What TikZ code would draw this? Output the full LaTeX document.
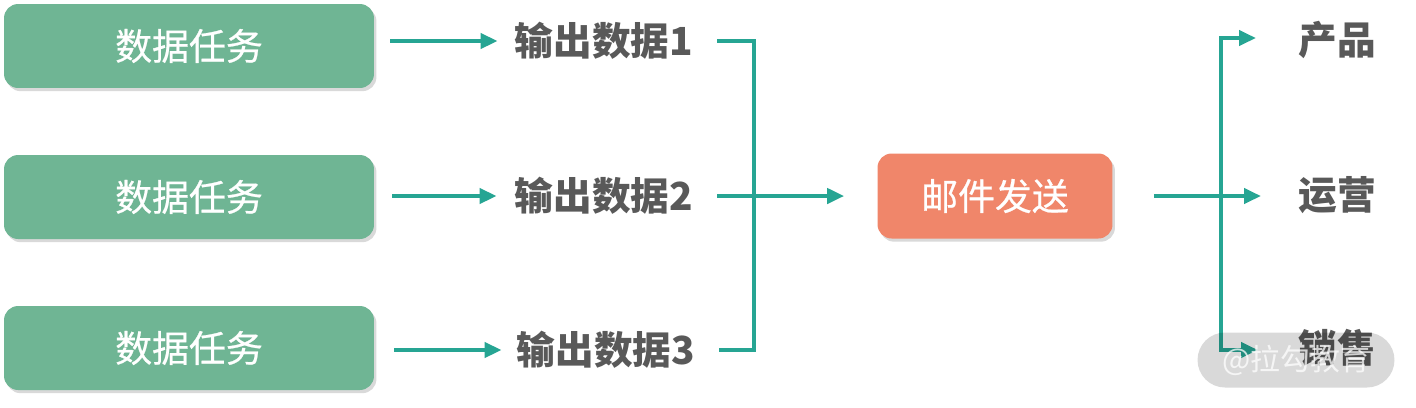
\documentclass[tikz,border=0pt]{standalone}
\usepackage{fontspec}
\usepackage{tikz}
\usetikzlibrary{arrows.meta,shadows}
\setmainfont{Noto Sans CJK SC}
\newfontfamily\boxfont[FakeBold=0.6]{Noto Sans CJK SC}
\definecolor{task}{HTML}{6FB594}
\definecolor{mail}{HTML}{F0866A}
\definecolor{flow}{HTML}{26A593}
\definecolor{txt}{HTML}{595959}

\begin{document}
\begin{tikzpicture}[
    x=0.02cm,y=-0.02cm,
    box/.style={rounded corners=8pt,fill=task,text=white,
              minimum width=7.4cm,minimum height=1.68cm,
              font=\boxfont\fontsize{21}{21}\selectfont,
              drop shadow={shadow xshift=1.4pt,shadow yshift=-1.8pt,opacity=0.3}},
    send/.style={box,fill=mail,minimum width=4.7cm,minimum height=1.7cm},
    lbl/.style={text=txt,inner sep=0pt,font=\fontsize{22}{22}\selectfont\bfseries},
    ln/.style={flow,line width=2.3pt},
    fl/.style={ln,-{Triangle[length=0.34cm,width=0.3cm]}}
  ]
    \useasboundingbox (0,0) rectangle (1416,407);
    % tasks
    \node[box] (t1) at (189,46) {数据任务};
    \node[box] (t2) at (189,197) {数据任务};
    \node[box] (t3) at (189,348) {数据任务};
    \node[lbl] (o1) at (604,41) {输出数据1};
    \node[lbl] (o2) at (604,196) {输出数据2};
    \node[lbl] (o3) at (606,350) {输出数据3};
    \draw[fl] ([xshift=0.32cm]o1.west -| t1.east) -- ([xshift=-0.34cm]o1.west);
    \draw[fl] ([xshift=0.36cm]o2.west -| t2.east) -- ([xshift=-0.36cm]o2.west);
    \draw[fl] ([xshift=0.4cm]o3.west -| t3.east) -- ([xshift=-0.3cm]o3.west);
    % collect
    \node[send] (mail) at (995,196) {邮件发送};
    \coordinate (j) at (754,196);
    \draw[ln] ([xshift=0.48cm]o1.east) -| (j) |- ([xshift=0.48cm]o3.east);
    \draw[fl] ([xshift=0.48cm]o2.east) -- ([xshift=-0.66cm]mail.west);
    % receivers
    \node[lbl] (p) at (1337,40) {产品};
    \node[lbl] (r) at (1337,195) {运营};
    \node[lbl] (s) at (1337,348) {销售};
    \coordinate (k) at (1221,196);
    \draw[fl] ([xshift=0.82cm]mail.east) -- ([xshift=-0.74cm]mail.east -| r.west);
    \draw[fl] (k) |- ([xshift=-0.84cm,yshift=0.04cm]p.west);
    \draw[fl] (k) |- ([xshift=-0.8cm,yshift=-0.04cm]s.west);
    % watermark
    \node[fill=black,fill opacity=0.15,text=white,text opacity=0.75,
          rounded corners=0.55cm,minimum width=3.94cm,minimum height=1.1cm,
          font=\fontsize{17}{17}\selectfont] (wm) at (1296,360) {@拉勾教育};
\end{tikzpicture}
\end{document}
